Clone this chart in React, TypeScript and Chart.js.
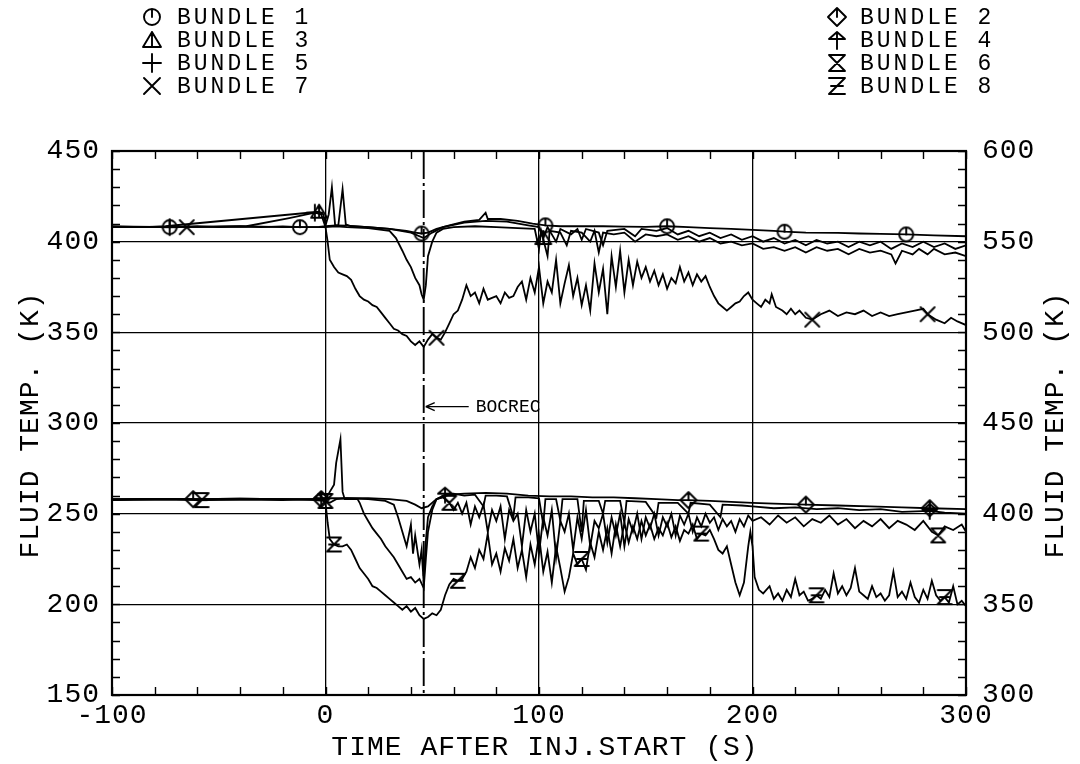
import React, { useEffect, useRef } from 'react';
import { Chart, registerables } from 'chart.js';

Chart.register(...registerables);

type Pt = [number, number];

const FONT_FAMILY = "'Liberation Mono', 'DejaVu Sans Mono', monospace";

const xTitle = 'TIME AFTER INJ.START (S)';
const yTitle = 'FLUID TEMP. (K)';
const y2Title = 'FLUID TEMP. (K)';
const legendLabels = ['BUNDLE 1', 'BUNDLE 2', 'BUNDLE 3', 'BUNDLE 4', 'BUNDLE 5', 'BUNDLE 6', 'BUNDLE 7', 'BUNDLE 8'];
const legendMarkers = ['circle', 'diamond', 'triangle', 'arrow', 'plus', 'hourglass', 'x', 'z'];
const bocrecTime = 46;
const bocrecLevel = 309;
const bocrecLabel = 'BOCREC';

// Left axis (K): bundles 1,3,5,7
const bundle1: Pt[] = [[-100,408.5],[-90,408.3],[-80,408.2],[-73,408],[-60,408.5],[-50,408],[-40,408.3],[-30,408],[-20,408.4],[-12,408],[-3,408.2],[0,408.5],[5,409],[10,408.8],[20,408],[30,407],[38,406],[42,405],[45,404.5],[48,405],[52,407],[58,409],[65,411],[72,412],[75,416],[76,412.5],[82,412.5],[90,411.5],[97,410],[103,409],[110,408.5],[120,408.5],[130,408.5],[140,408.3],[150,408.2],[160,408.5],[170,408],[180,407.5],[190,407],[200,406.5],[210,406],[215,405.5],[225,405],[240,404.8],[250,404.5],[260,404.3],[272,404],[285,403.5],[300,403]];
const bundle3: Pt[] = [[-100,408],[-85,408],[-75,408.5],[-3,416.5],[-1,415],[0,409],[1.5,415],[3,430],[4.5,409],[6,409],[8,429],[9.5,409.5],[12,408.5],[20,408],[30,407],[40,405],[46,402],[50,405],[55,408],[65,410.5],[75,411.5],[85,411],[95,409],[100,408],[102,402],[104,408],[108,400],[110,407],[115,404],[118,407],[120,401],[122,407],[128,405],[130,398],[132,406],[140,407],[145,403],[148,407],[155,406],[160,407.5],[165,404],[170,406],[175,403],[180,405],[185,402],[190,404],[195,401],[200,403],[205,400],[210,402],[215,399],[220,401],[225,398],[230,401],[235,399],[240,400],[245,397],[250,400],[255,398],[260,400],[265,396],[270,399],[275,397],[280,400],[285,397],[290,399],[295,396],[300,398]];
const bundle5: Pt[] = [[-100,408],[-80,408],[-73,408],[-60,408.2],[-37,408.5],[-17,413],[-5,416],[-2,415],[0,408],[5,408.5],[10,408],[20,407.5],[30,406],[33,402],[36,395],[38,390],[40,386],[42,380],[44,376],[45,371],[46,368],[47,376],[48,392],[50,400],[52,405],[55,407],[60,408],[70,408.5],[80,408],[90,407.5],[98,407],[100,396],[101,406],[104,392],[105,406],[110,405],[113,398],[115,406],[120,405],[124,400],[126,406],[128,394],[130,405],[135,404],[140,405],[145,400],[150,404],[155,403],[160,404],[165,401],[170,403],[175,400],[180,402],[185,399],[190,400],[195,398],[200,399],[205,396],[210,397],[215,395],[220,397],[225,394],[230,397],[235,395],[240,396],[245,393],[250,396],[255,394],[260,395],[265,393],[267,388],[270,395],[275,393],[278,396],[282,393],[285,396],[290,393],[295,394],[300,392]];
const bundle7: Pt[] = [[-100,408],[-85,408],[-65,408],[-40,408.5],[-20,408],[-5,408],[0,408],[1,400],[2,390],[4,386],[6,383],[8,382],[10,381],[12,379],[14,374],[16,370],[18,368],[20,367],[22,365],[24,364],[26,361],[28,358],[30,355],[32,352],[34,351],[36,349],[38,348],[40,345],[42,343],[44,345],[46,342],[48,346],[50,349],[52,347],[54,346],[56,350],[58,355],[60,360],[62,362],[64,368],[66,376],[68,370],[70,372],[72,366],[74,374],[76,368],[78,369],[80,370],[82,366],[84,372],[86,369],[88,370],[90,375],[92,378],[94,368],[96,380],[98,372],[100,386],[102,366],[104,378],[106,372],[108,390],[110,366],[112,377],[114,387],[116,370],[118,380],[120,365],[122,376],[124,362],[126,388],[128,372],[130,385],[132,360],[134,392],[136,375],[138,395],[140,372],[142,390],[144,376],[146,389],[148,380],[150,386],[152,378],[154,384],[156,376],[158,382],[160,374],[162,380],[164,377],[166,386],[168,378],[170,383],[172,376],[174,382],[176,378],[178,381],[180,375],[182,370],[184,366],[186,364],[188,362],[190,364],[192,366],[194,367],[196,370],[198,372],[200,368],[202,366],[204,364],[206,368],[208,366],[209,371],[211,364],[214,362],[216,360],[218,363],[220,360],[222,362],[225,358],[228,357],[232,360],[236,362],[240,359],[244,361],[248,360],[252,362],[256,359],[260,361],[264,359],[268,360],[272,361],[276,362],[280,363],[282,360],[286,357],[290,355],[293,358],[296,356],[300,354]];

// Right axis (K): bundles 2,4,6,8
const bundle2: Pt[] = [[-100,408],[-80,408.2],[-62,408],[-40,408.3],[-20,408],[-2,408],[0,408.5],[10,408.5],[20,408.5],[30,408],[38,407],[42,405],[45,403],[48,404],[52,408],[58,410.5],[65,411],[75,411.5],[85,411],[95,410],[105,409.5],[115,409.5],[125,409],[135,409],[145,408.5],[155,408],[165,407.5],[170,407.5],[180,407],[190,406.5],[200,406],[210,405.5],[225,405],[240,404.5],[255,404],[270,403.5],[283,403],[300,402.5]];
const bundle4: Pt[] = [[-100,407.5],[-80,407.8],[-60,407.5],[-40,407.8],[-20,407.5],[-2,408],[0,408],[2,412],[4,416],[5,428],[7,441],[8,412],[9,408],[12,408],[15,408],[16,406],[18,400],[20,396],[22,392],[24,389],[26,386],[28,382],[30,379],[32,376],[34,372],[36,368],[38,364],[40,365],[42,362],[44,364],[46,359],[47,375],[48,390],[50,402],[52,408],[56,410.5],[60,411],[65,410],[70,410.5],[74,404],[75,410],[80,410],[85,409.5],[88,398],[89,409],[95,409],[100,408.5],[102,394],[103,408],[108,408],[110,396],[111,408],[118,408],[120,390],[121,407],[128,407],[130,400],[131,407],[138,407],[140,395],[141,407],[150,406.5],[155,398],[156,406],[165,406],[170,400],[171,406],[180,405],[185,398],[186,405],[195,404.5],[200,404],[210,403],[220,403.5],[230,402.5],[240,403],[250,402],[260,402.5],[270,401],[283,401.5],[290,400.5],[300,400]];
const bundle6: Pt[] = [[-100,408],[-80,408.2],[-60,408],[-40,408.3],[-20,408],[-3,408],[0,407],[2,406],[5,408],[10,408.5],[20,408],[28,407],[32,405],[34,398],[36,390],[38,382],[40,394],[41,378],[42,388],[44,372],[45,380],[46,362],[47,385],[48,398],[50,404],[52,408],[55,409],[58,406],[60,402],[62,406],[64,400],[66,406],[68,394],[70,404],[72,398],[74,405],[76,390],[78,402],[80,396],[82,404],[84,386],[86,402],[88,396],[90,400],[92,382],[94,402],[96,390],[98,400],[100,378],[102,398],[104,388],[106,402],[108,376],[110,396],[112,390],[114,400],[116,380],[118,398],[120,386],[122,402],[124,382],[126,396],[128,392],[130,400],[132,384],[134,398],[136,388],[138,400],[140,382],[142,397],[144,390],[146,400],[148,386],[150,398],[152,392],[154,400],[156,388],[158,398],[160,393],[162,400],[164,388],[166,399],[168,394],[170,400],[172,390],[174,398],[176,393],[178,400],[180,395],[182,398],[184,391],[186,397],[188,393],[190,396],[192,390],[194,397],[196,393],[198,399],[200,396],[204,398],[208,394],[212,399],[216,395],[220,398],[224,393],[228,397],[232,395],[236,399],[240,394],[244,397],[248,392],[252,396],[256,393],[260,397],[264,392],[268,396],[272,394],[276,391],[280,396],[284,390],[287,388],[290,393],[294,391],[298,394],[300,390]];
const bundle8: Pt[] = [[-100,407.5],[-80,408],[-62,408],[-58,407.5],[-40,408],[-20,408],[-5,407.5],[-1,407],[0,406],[1,395],[2,386],[4,383],[6,382],[8,382],[10,383],[12,380],[14,375],[16,370],[18,367],[20,364],[22,360],[24,359],[26,357],[28,355],[30,353],[32,351],[34,349],[36,347],[38,349],[40,346],[42,348],[44,344],[46,342],[48,343],[50,345],[52,344],[54,347],[56,355],[58,361],[60,364],[62,363],[64,364],[66,368],[68,376],[70,370],[72,380],[74,375],[76,389],[78,372],[80,378],[82,368],[84,381],[86,374],[88,386],[90,370],[92,380],[94,365],[96,383],[98,372],[100,388],[102,368],[104,379],[106,362],[108,382],[110,370],[112,357],[114,365],[116,378],[118,372],[120,375],[122,369],[124,384],[126,376],[128,390],[130,380],[132,392],[134,378],[136,394],[138,382],[140,395],[142,384],[144,393],[146,386],[148,396],[150,388],[152,394],[154,386],[156,392],[158,388],[160,395],[162,387],[164,393],[166,385],[168,391],[170,389],[172,394],[174,386],[176,389],[178,388],[180,391],[182,386],[184,380],[186,378],[188,382],[190,372],[192,362],[194,355],[196,362],[198,382],[199,390],[200,382],[201,365],[203,358],[205,356],[208,360],[210,353],[212,356],[214,352],[216,358],[218,354],[220,364],[222,355],[224,357],[226,352],[228,353],[230,355],[232,353],[234,358],[236,354],[238,367],[240,356],[242,360],[244,355],[246,359],[248,370],[250,357],[252,355],[254,353],[256,360],[258,354],[260,356],[262,352],[264,355],[266,368],[268,354],[270,357],[272,353],[274,362],[276,354],[278,351],[280,358],[282,353],[284,363],[286,355],[288,352],[290,354],[292,351],[294,360],[296,350],[298,352],[300,349]];

// Marker positions (time, s) along each curve
const bundle1Marks = [-73, -12, 45, 103, 160, 215, 272];
const bundle2Marks = [-62, -2, 170, 225, 283];
const bundle3Marks = [-3, 103];
const bundle4Marks = [-2, 56, 283];
const bundle5Marks = [-73, -5];
const bundle6Marks = [0, 58, 287];
const bundle7Marks = [-65, 52, 228, 282];
const bundle8Marks = [-58, 5, 62, 120, 177, 230, 290];

function makeMarker(kind: string, size = 20, r = 7): HTMLCanvasElement {
  const c = document.createElement('canvas');
  c.width = size;
  c.height = size;
  const g = c.getContext('2d')!;
  g.strokeStyle = '#000';
  g.lineWidth = 1.9;
  g.lineCap = 'round';
  g.lineJoin = 'round';
  const m = size / 2;
  g.beginPath();
  switch (kind) {
    case 'circle':
      g.arc(m, m, r, 0, Math.PI * 2);
      g.moveTo(m, m);
      g.lineTo(m, m - r);
      break;
    case 'diamond':
      g.moveTo(m, m - r - 1);
      g.lineTo(m + r + 1, m);
      g.lineTo(m, m + r + 1);
      g.lineTo(m - r - 1, m);
      g.closePath();
      g.moveTo(m, m);
      g.lineTo(m, m - r - 1);
      break;
    case 'triangle':
      g.moveTo(m, m - r);
      g.lineTo(m + r + 1, m + r - 1);
      g.lineTo(m - r - 1, m + r - 1);
      g.closePath();
      g.moveTo(m, m - r);
      g.lineTo(m, m + r - 1);
      break;
    case 'arrow':
      g.moveTo(m - r, m - 1);
      g.lineTo(m, m - r);
      g.lineTo(m + r, m - 1);
      g.closePath();
      g.moveTo(m, m - r);
      g.lineTo(m, m + r + 1);
      break;
    case 'plus':
      g.moveTo(m - r - 1, m);
      g.lineTo(m + r + 1, m);
      g.moveTo(m, m - r - 1);
      g.lineTo(m, m + r + 1);
      break;
    case 'hourglass':
      g.moveTo(m - r, m - r);
      g.lineTo(m + r, m - r);
      g.moveTo(m - r, m + r);
      g.lineTo(m + r, m + r);
      g.moveTo(m - r, m - r);
      g.lineTo(m + r, m + r);
      g.moveTo(m + r, m - r);
      g.lineTo(m - r, m + r);
      break;
    case 'x':
      g.moveTo(m - r, m - r);
      g.lineTo(m + r, m + r);
      g.moveTo(m + r, m - r);
      g.lineTo(m - r, m + r);
      break;
    case 'z':
      g.moveTo(m - r, m - r);
      g.lineTo(m + r, m - r);
      g.lineTo(m - r, m + r);
      g.lineTo(m + r, m + r);
      g.moveTo(m - r + 2, m);
      g.lineTo(m + r - 2, m);
      break;
  }
  g.stroke();
  return c;
}

function nearestIndexSet(data: Pt[], times: number[]): Set<number> {
  const s = new Set<number>();
  times.forEach((t) => {
    let best = 0;
    let bd = Infinity;
    data.forEach((p, i) => {
      const d = Math.abs(p[0] - t);
      if (d < bd) {
        bd = d;
        best = i;
      }
    });
    s.add(best);
  });
  return s;
}

export default function App() {
  const ref = useRef<HTMLCanvasElement>(null);

  useEffect(() => {
    const markerImgs: Record<string, HTMLCanvasElement> = {};
    legendMarkers.forEach((k) => (markerImgs[k] = makeMarker(k)));
    const legendImgs: Record<string, HTMLCanvasElement> = {};
    legendMarkers.forEach((k) => (legendImgs[k] = makeMarker(k, 22, 8)));

    const series = [
      { data: bundle1, axis: 'y', marker: 'circle', marks: bundle1Marks },
      { data: bundle2, axis: 'y2', marker: 'diamond', marks: bundle2Marks },
      { data: bundle3, axis: 'y', marker: 'triangle', marks: bundle3Marks },
      { data: bundle4, axis: 'y2', marker: 'arrow', marks: bundle4Marks },
      { data: bundle5, axis: 'y', marker: 'plus', marks: bundle5Marks },
      { data: bundle6, axis: 'y2', marker: 'hourglass', marks: bundle6Marks },
      { data: bundle7, axis: 'y', marker: 'x', marks: bundle7Marks },
      { data: bundle8, axis: 'y2', marker: 'z', marks: bundle8Marks },
    ];

    const datasets = series.map((s, i) => {
      const idx = nearestIndexSet(s.data, s.marks);
      return {
        label: legendLabels[i],
        data: s.data,
        yAxisID: s.axis,
        borderColor: '#000',
        backgroundColor: '#000',
        borderWidth: 1.8,
        tension: 0,
        fill: false,
        pointStyle: markerImgs[s.marker],
        pointRadius: (c: any) => (idx.has(c.dataIndex) ? 7 : 0),
        pointHoverRadius: 0,
      };
    });

    const tickFont = { family: FONT_FAMILY, size: 28 };

    const decor = {
      id: 'decor',
      beforeDraw(chart: any) {
        (chart.ctx as any).letterSpacing = '1px';
      },
      afterDatasetsDraw(chart: any) {
        const { ctx, chartArea: a, scales } = chart;
        const xs = scales.x;
        const ys = scales.y;
        const ys2 = scales.y2;
        ctx.save();
        (ctx as any).letterSpacing = '0px';
        ctx.strokeStyle = '#000';
        ctx.lineWidth = 1.4;
        ctx.beginPath();
        for (let v = -100; v <= 300; v += 20) {
          const px = Math.round(xs.getPixelForValue(v)) + 0.5;
          ctx.moveTo(px, a.bottom);
          ctx.lineTo(px, a.bottom - 8);
          ctx.moveTo(px, a.top);
          ctx.lineTo(px, a.top + 8);
        }
        for (let v = 150; v <= 450; v += 10) {
          const py = Math.round(ys.getPixelForValue(v)) + 0.5;
          ctx.moveTo(a.left, py);
          ctx.lineTo(a.left + 8, py);
        }
        for (let v = 300; v <= 600; v += 10) {
          const py = Math.round(ys2.getPixelForValue(v)) + 0.5;
          ctx.moveTo(a.right, py);
          ctx.lineTo(a.right - 8, py);
        }
        ctx.stroke();

        ctx.lineWidth = 2.2;
        ctx.strokeRect(a.left, a.top, a.right - a.left, a.bottom - a.top);

        // BOCREC dash-dot line
        const bx = xs.getPixelForValue(bocrecTime);
        ctx.lineWidth = 1.9;
        ctx.setLineDash([28, 4, 3, 4]);
        ctx.beginPath();
        ctx.moveTo(bx, a.top);
        ctx.lineTo(bx, a.bottom);
        ctx.stroke();
        ctx.setLineDash([]);

        // arrow + label
        const by = ys.getPixelForValue(bocrecLevel);
        ctx.lineWidth = 1.3;
        ctx.beginPath();
        ctx.moveTo(bx + 2, by);
        ctx.lineTo(bx + 45, by);
        ctx.moveTo(bx + 2, by);
        ctx.lineTo(bx + 11, by - 4);
        ctx.moveTo(bx + 2, by);
        ctx.lineTo(bx + 11, by + 4);
        ctx.stroke();
        ctx.fillStyle = '#000';
        ctx.font = `18px ${FONT_FAMILY}`;
        ctx.textAlign = 'left';
        ctx.textBaseline = 'middle';
        ctx.fillText(bocrecLabel, bx + 52, by + 1);
        ctx.restore();
      },
      afterDraw(chart: any) {
        const { ctx } = chart;
        ctx.save();
        ctx.fillStyle = '#000';
        // axis titles
        (ctx as any).letterSpacing = '1px';
        ctx.font = `28px ${FONT_FAMILY}`;
        ctx.textAlign = 'center';
        ctx.textBaseline = 'middle';
        ctx.fillText(xTitle, 545, 748);
        ctx.save();
        ctx.translate(31, 425);
        ctx.rotate(-Math.PI / 2);
        ctx.fillText(yTitle, 0, 0);
        ctx.restore();
        ctx.save();
        ctx.translate(1056, 425);
        ctx.rotate(-Math.PI / 2);
        ctx.fillText(y2Title, 0, 0);
        ctx.restore();

        // legend
        (ctx as any).letterSpacing = '3px';
        ctx.font = `23px ${FONT_FAMILY}`;
        ctx.textAlign = 'left';
        const rows = [17, 40, 63, 86];
        legendLabels.forEach((lab, i) => {
          const col = i % 2;
          const row = Math.floor(i / 2);
          const mx = col === 0 ? 152 : 837;
          const tx = col === 0 ? 177 : 860;
          const yy = rows[row];
          const img = legendImgs[legendMarkers[i]];
          ctx.drawImage(img, mx - img.width / 2, yy - img.height / 2);
          ctx.fillText(lab, tx, yy + 1);
        });
        ctx.restore();
      },
    };

    const chart = new Chart(ref.current!, {
      type: 'line',
      data: { datasets: datasets as any },
      options: {
        animation: false,
        responsive: true,
        maintainAspectRatio: false,
        layout: { padding: { top: 151, left: 0, right: 0, bottom: 0 } },
        plugins: { legend: { display: false }, tooltip: { enabled: false } },
        scales: {
          x: {
            type: 'linear',
            min: -100,
            max: 300,
            ticks: { stepSize: 100, font: tickFont, color: '#000', padding: 4, maxRotation: 0, autoSkip: false },
            grid: { color: '#000', lineWidth: 1.3, drawTicks: false },
            border: { display: false },
            afterFit: (s: any) => {
              s.height = 69;
            },
          },
          y: {
            type: 'linear',
            position: 'left',
            min: 150,
            max: 450,
            ticks: { stepSize: 50, font: tickFont, color: '#000', padding: 12 },
            grid: { color: '#000', lineWidth: 1.3, drawTicks: false },
            border: { display: false },
            afterFit: (s: any) => {
              s.width = 112;
            },
          },
          y2: {
            type: 'linear',
            position: 'right',
            min: 300,
            max: 600,
            ticks: { stepSize: 50, font: tickFont, color: '#000', padding: 16 },
            grid: { display: false, drawTicks: false },
            border: { display: false },
            afterFit: (s: any) => {
              s.width = 114;
            },
          },
        },
      } as any,
      plugins: [decor],
    });
    return () => chart.destroy();
  }, []);

  return (
    <div style={{ position: 'fixed', left: 0, top: 0, width: 1080, height: 764, background: '#fff' }}>
      <canvas ref={ref} />
    </div>
  );
}
